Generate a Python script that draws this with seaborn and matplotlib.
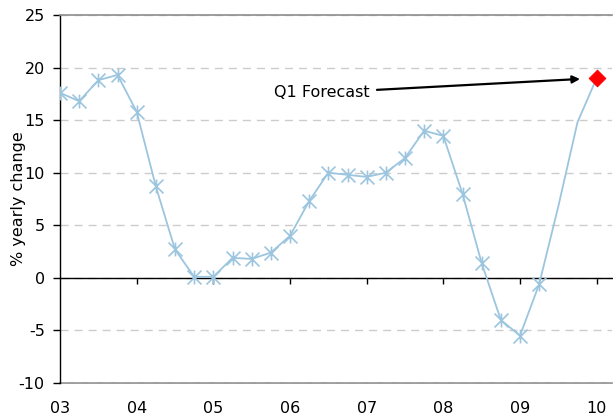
import numpy as np
import pandas as pd
import matplotlib
matplotlib.use('Agg')
import matplotlib.pyplot as plt
from matplotlib.path import Path
import seaborn as sns

# year labels on the x axis (one per year, quarterly data in between)
years = ['03', '04', '05', '06', '07', '08', '09', '10']
# yearly % change, quarterly from 03 Q1 to 09 Q2 (observed)
actual = [17.6, 16.8, 18.8, 19.3, 15.8, 8.7, 2.7, 0.1, 0.1, 1.9, 1.8, 2.4,
          4.0, 7.3, 10.0, 9.8, 9.6, 10.0, 11.4, 14.0, 13.5, 8.0, 1.4, -4.0,
          -5.5, -0.6]
# path of the line between the last observation and the forecast
projection = [6.8, 14.8]
# Q1 forecast for year 10
forecast = 19.0

series = actual + projection + [forecast]
df = pd.DataFrame({'t': np.arange(len(series)) / 4, 'change': series})

blue = '#9cc5df'
# asterisk marker like excel: X plus a vertical bar
asterisk = Path([(-1, -1), (1, 1), (-1, 1), (1, -1), (0, -1), (0, 1)],
                [Path.MOVETO, Path.LINETO, Path.MOVETO, Path.LINETO, Path.MOVETO, Path.LINETO])

sns.set_style('white')
plt.rcParams['font.family'] = ['DejaVu Sans']
plt.rcParams['axes.unicode_minus'] = False

fig = plt.figure(figsize=(6.13, 4.17), dpi=100)
ax = fig.add_axes([60 / 613, 1 - 383 / 417, 552 / 613, 368 / 417])

sns.lineplot(data=df, x='t', y='change', ax=ax, color=blue, lw=1.3,
             marker=asterisk, markersize=10, markevery=list(range(len(actual))),
             markeredgecolor=blue, markerfacecolor='none', markeredgewidth=1.2, zorder=3)
sns.scatterplot(x=[df['t'].iloc[-1]], y=[forecast], ax=ax, marker='D', s=72,
                color='red', edgecolor='red', zorder=5)

ax.set_xlim(0, 7.2)
ax.set_ylim(-10, 25)
ax.set_yticks(range(-10, 26, 5))
ax.yaxis.grid(True, color='#cccccc', lw=1.0, linestyle=(0, (5.8, 4.3)))
ax.xaxis.grid(False)
ax.set_axisbelow(True)

# zero line carries the year ticks, labels sit at the bottom
ax.spines['bottom'].set_position(('data', 0))
ax.spines['bottom'].set_color('black')
ax.spines['bottom'].set_linewidth(1.0)
ax.spines['left'].set_color('black')
ax.spines['left'].set_linewidth(1.0)
ax.spines['top'].set_color('#8c8c8c')
ax.spines['top'].set_linewidth(1.2)
ax.spines['right'].set_visible(False)

ax.set_xticks(range(1, 8))
ax.tick_params(axis='x', bottom=True, direction='out', length=4, width=1,
               color='black', labelbottom=False)
ax.tick_params(axis='y', left=True, direction='out', length=5, width=1,
               color='black', pad=6, labelsize=11.5, labelcolor='black')

sec = ax.secondary_xaxis('bottom')
sec.set_xticks(range(0, 8), labels=years)
sec.tick_params(length=0, pad=13, labelsize=11.5, labelcolor='black')
sec.spines['bottom'].set_color('#8c8c8c')
sec.spines['bottom'].set_linewidth(1.2)

ax.set_xlabel('')
ax.set_ylabel('% yearly change', fontsize=11.5, color='black')
ax.yaxis.set_label_coords(-0.062, 0.5)

ax.annotate('Q1 Forecast', xy=(df['t'].iloc[-1], forecast), xytext=(2.79, 17.6),
            ha='left', va='center', fontsize=11.5, color='black',
            arrowprops=dict(arrowstyle='-|>', color='black', lw=1.6,
                            shrinkA=3, shrinkB=12, mutation_scale=11))

fig.savefig('out.png', dpi=100)
